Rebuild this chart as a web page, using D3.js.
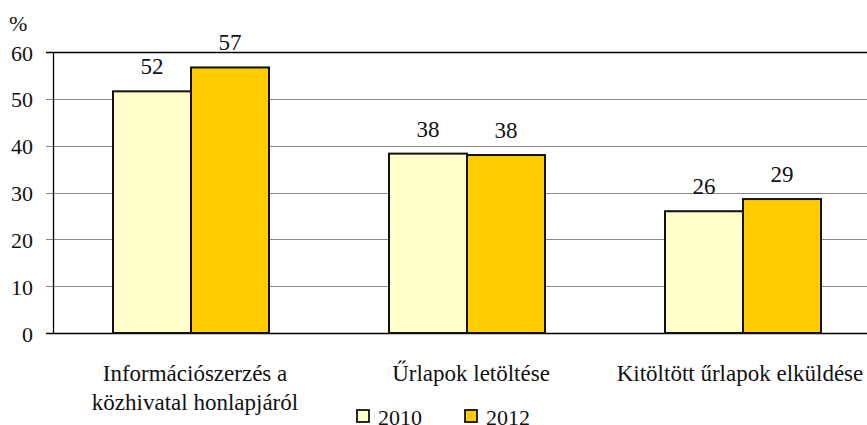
<!DOCTYPE html>
<html>
<head>
<meta charset="utf-8">
<script src="https://cdn.jsdelivr.net/npm/d3@7"></script>
<style>
    body { margin: 0; background: #fff; }
    svg { display: block; }
    svg text { font-family: "Liberation Serif", "Times New Roman", Times, "DejaVu Serif", serif; }
</style>
</head>
<body>
<svg id="chart" width="867" height="425"></svg>
<script>
(function () {
    // data
    var categories = [
        ['Információszerzés a', 'közhivatal honlapjáról'],
        ['Űrlapok letöltése'],
        ['Kitöltött űrlapok elküldése']
    ];
    var seriesNames = ['2010', '2012'];
    var values2010 = [51.6, 38.3, 26.0];
    var values2012 = [56.7, 38.0, 28.6];
    var yTicks = [0, 10, 20, 30, 40, 50, 60];
    var colors = ['#ffffcc', '#ffcc00'];

    var svg = d3.select('#chart');
    var plotLeft = 53, plotRight = 881, plotTop = 52, plotBottom = 333;

    var x = d3.scaleBand()
        .domain(d3.range(categories.length))
        .range([plotLeft, plotRight]);

    var xs = d3.scaleBand()
        .domain(seriesNames)
        .range([60, 216]);

    var y = d3.scaleLinear()
        .domain([0, 60])
        .range([plotBottom, plotTop]);

    var rows = [];
    categories.forEach(function (c, i) {
        rows.push({ cat: i, series: '2010', value: values2010[i] });
        rows.push({ cat: i, series: '2012', value: values2012[i] });
    });

    /*====== gridlines ======*/
    svg.append('g').selectAll('line')
        .data(yTicks)
        .enter().append('line')
            .attr('x1', plotLeft - 7)
            .attr('x2', 867)
            .attr('y1', function (d) { return Math.round(y(d)) + 0.5; })
            .attr('y2', function (d) { return Math.round(y(d)) + 0.5; })
            .attr('stroke', function (d) { return (d === 0 || d === 60) ? '#000' : '#888'; })
            .attr('stroke-width', function (d) { return (d === 0 || d === 60) ? 1.3 : 1; });

    // y axis line
    svg.append('line')
        .attr('x1', plotLeft + 0.5).attr('x2', plotLeft + 0.5)
        .attr('y1', plotTop).attr('y2', plotBottom + 1)
        .attr('stroke', '#000')
        .attr('stroke-width', 1.3);

    svg.append('g').selectAll('text')
        .data(yTicks)
        .enter().append('text')
            .attr('x', 33)
            .attr('y', function (d) { return y(d) + 8.5; })
            .attr('text-anchor', 'end')
            .attr('font-size', '22px')
            .attr('fill', '#111')
            .text(function (d) { return d; });

    svg.append('text')
        .attr('x', 9).attr('y', 31)
        .attr('font-size', '22px')
        .attr('fill', '#111')
        .text('%');

    /*====== bars ======*/
    var bars = svg.append('g').selectAll('g.bar')
        .data(rows)
        .enter().append('g')
            .attr('class', 'bar');

    bars.append('rect')
        .attr('x', function (d) { return x(d.cat) + xs(d.series); })
        .attr('y', function (d) { return y(d.value); })
        .attr('width', xs.bandwidth())
        .attr('height', function (d) { return y(0) - y(d.value); })
        .attr('fill', function (d) { return colors[seriesNames.indexOf(d.series)]; })
        .attr('stroke', '#111')
        .attr('stroke-width', 2);

    bars.append('text')
        .attr('x', function (d) { return x(d.cat) + xs(d.series) + xs.bandwidth() / 2; })
        .attr('y', function (d) { return y(d.value) - 17; })
        .attr('text-anchor', 'middle')
        .attr('font-size', '23px')
        .attr('fill', '#111')
        .text(function (d) { return d3.format('.0f')(d.value); });

    /*====== category labels ======*/
    var catLabels = svg.append('g').selectAll('text')
        .data(categories)
        .enter().append('text')
            .attr('text-anchor', 'middle')
            .attr('font-size', '23px')
            .attr('fill', '#111')
            .attr('transform', function (d, i) {
                var cx = x(i) + x.bandwidth() / 2 + 4;
                if (i === 2) cx = Math.min(cx, 740);
                return 'translate(' + cx + ',381)';
            });

    catLabels.selectAll('tspan')
        .data(function (d) { return d; })
        .enter().append('tspan')
            .attr('x', 0)
            .attr('dy', function (d, i) { return i === 0 ? 0 : 29; })
            .text(function (d) { return d; });

    /*====== legend ======*/
    var legendX = [357, 465];
    var legend = svg.append('g').selectAll('g')
        .data(seriesNames)
        .enter().append('g')
            .attr('transform', function (d, i) { return 'translate(' + legendX[i] + ',410)'; });

    legend.append('rect')
        .attr('width', 12).attr('height', 12)
        .attr('fill', function (d, i) { return colors[i]; })
        .attr('stroke', '#111')
        .attr('stroke-width', 1.8);

    legend.append('text')
        .attr('x', 21).attr('y', 15)
        .attr('font-size', '22px')
        .attr('fill', '#111')
        .text(function (d) { return d; });
})();
</script>
</body>
</html>
